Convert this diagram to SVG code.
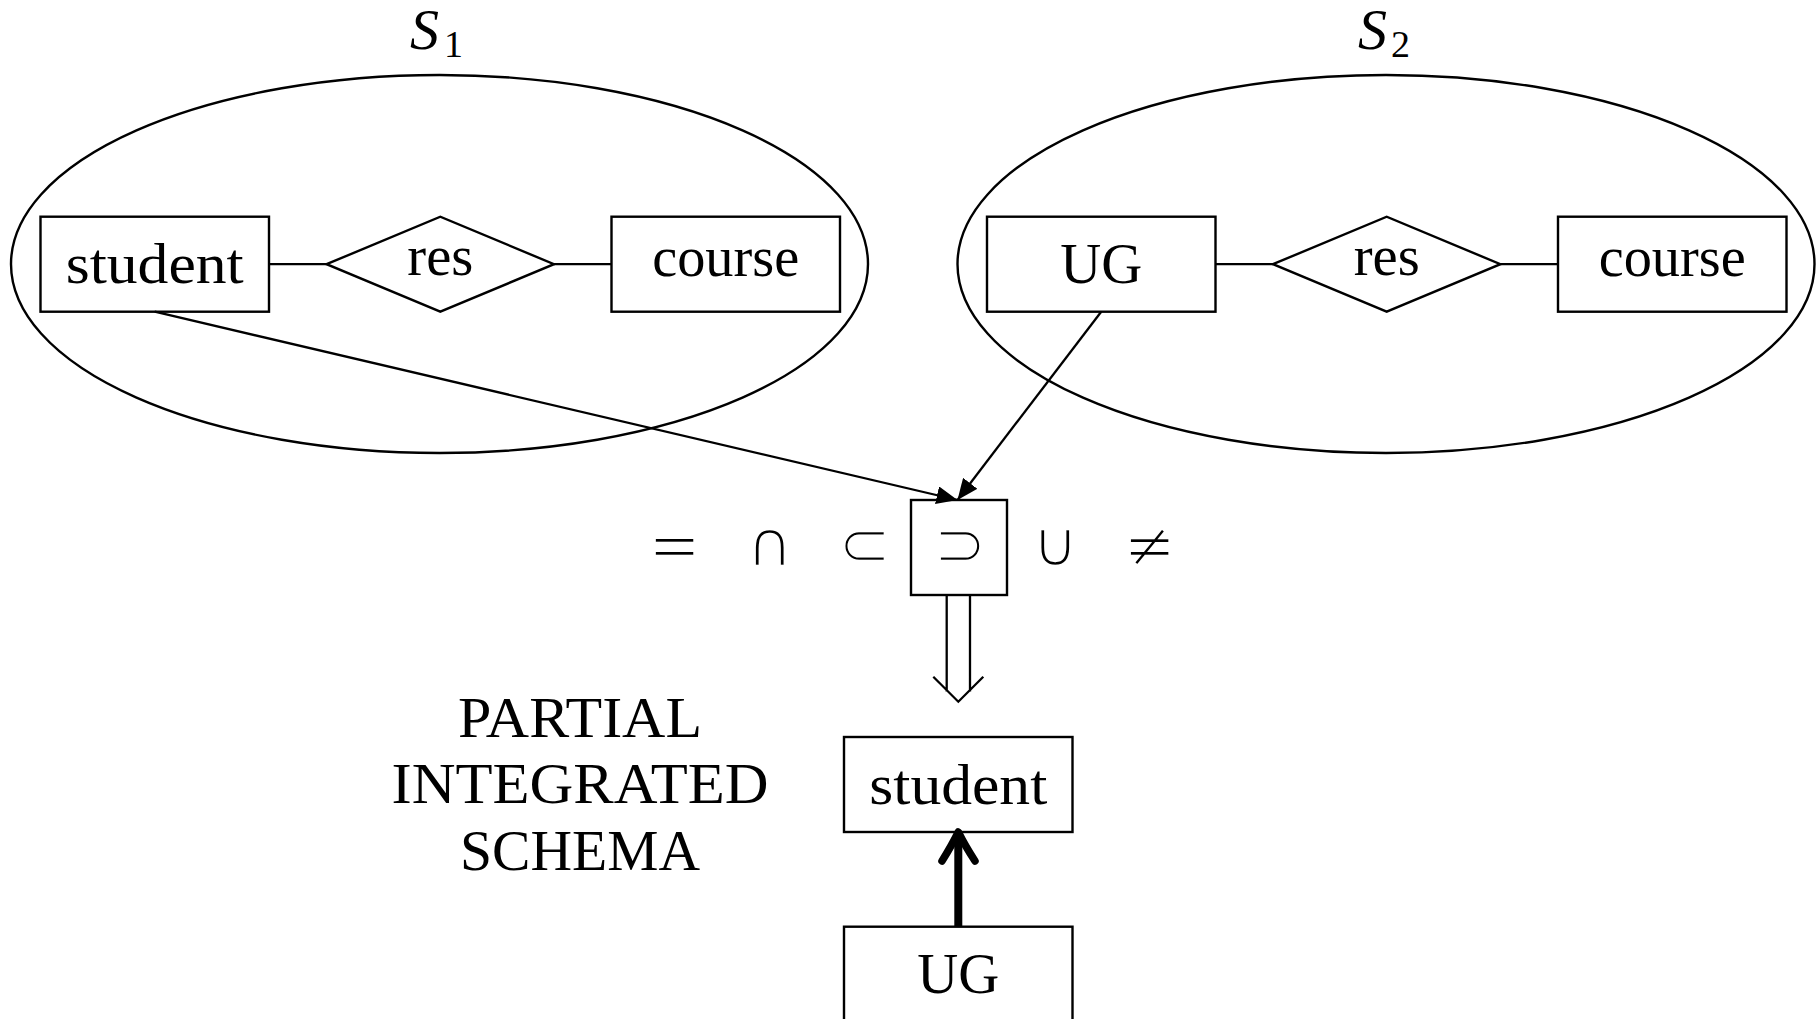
<svg xmlns="http://www.w3.org/2000/svg" width="1819" height="1019" viewBox="0 0 1819 1019">
<style>
.shape{fill:none;stroke:#000;stroke-width:2.4}
.line{fill:none;stroke:#000;stroke-width:2.3}
.t{font-family:"Liberation Serif","Times New Roman",serif;font-size:56px;fill:#000;text-anchor:middle}
.ti{font-family:"Liberation Serif","Times New Roman",serif;font-style:italic;font-size:58px;fill:#000}
.sub{font-family:"Liberation Serif","Times New Roman",serif;font-size:38px;fill:#000}
.sym{font-family:"DejaVu Sans",sans-serif;font-size:64px;font-weight:normal;fill:#000;stroke:#fff;stroke-width:2.6;text-anchor:middle}
</style>
<defs>
<marker id="tri" markerUnits="userSpaceOnUse" markerWidth="22" markerHeight="18" refX="21" refY="9" orient="auto">
<path d="M0,0 L21,9 L0,18 z" fill="#000"/>
</marker>
</defs>
<rect width="1819" height="1019" fill="#fff"/>

<g id="schema1">
<ellipse class="shape" cx="439.5" cy="264" rx="428.5" ry="189"/>
<text class="ti" x="410" y="49">S</text>
<text class="sub" x="444" y="57">1</text>
</g>
<g id="schema2">
<ellipse class="shape" cx="1386" cy="264" rx="428.5" ry="189"/>
<text class="ti" x="1358" y="49">S</text>
<text class="sub" x="1391" y="57">2</text>
</g>

<g id="student1">
<rect class="shape" x="40.5" y="216.7" width="228.5" height="95"/>
<text class="t" x="154.7" y="283.3" textLength="178" lengthAdjust="spacingAndGlyphs">student</text>
</g>
<g id="res1">
<polygon class="shape" points="326.6,264.2 440.3,216.7 554,264.2 440.3,311.7"/>
<text class="t" x="440.3" y="275" textLength="66" lengthAdjust="spacingAndGlyphs">res</text>
</g>
<g id="course1">
<rect class="shape" x="611.5" y="216.7" width="228.5" height="95"/>
<text class="t" x="725.7" y="275.5" textLength="147" lengthAdjust="spacingAndGlyphs">course</text>
</g>

<g id="ug1">
<rect class="shape" x="987" y="216.7" width="228.5" height="95"/>
<text class="t" x="1101.2" y="283.3" textLength="82" lengthAdjust="spacingAndGlyphs">UG</text>
</g>
<g id="res2">
<polygon class="shape" points="1273,264.2 1386.7,216.7 1500.4,264.2 1386.7,311.7"/>
<text class="t" x="1386.7" y="275" textLength="66" lengthAdjust="spacingAndGlyphs">res</text>
</g>
<g id="course2">
<rect class="shape" x="1558" y="216.7" width="228.5" height="95"/>
<text class="t" x="1672.2" y="275.5" textLength="147" lengthAdjust="spacingAndGlyphs">course</text>
</g>

<g id="operators">
<text class="sym" x="674.5" y="567">=</text>
<text class="sym" x="770" y="566">∩</text>
<text class="sym" x="864.5" y="566">⊂</text>
<text class="sym" x="1055.5" y="566">∪</text>
<text class="sym" x="1149.5" y="567">≠</text>
</g>
<g id="supset">
<rect class="shape" x="911" y="500" width="96" height="95"/>
<text class="sym" x="960" y="566">⊃</text>
</g>

<g id="label">
<text class="t" x="580" y="737.3" textLength="244" lengthAdjust="spacingAndGlyphs">PARTIAL</text>
<text class="t" x="580" y="803.3" textLength="377" lengthAdjust="spacingAndGlyphs">INTEGRATED</text>
<text class="t" x="580" y="870" textLength="240" lengthAdjust="spacingAndGlyphs">SCHEMA</text>
</g>

<g id="student2">
<rect class="shape" x="844" y="737" width="228.5" height="95"/>
<text class="t" x="958.3" y="804" textLength="178" lengthAdjust="spacingAndGlyphs">student</text>
</g>
<g id="ug2">
<rect class="shape" x="844" y="926.7" width="228.5" height="95"/>
<text class="t" x="958.3" y="993" textLength="82" lengthAdjust="spacingAndGlyphs">UG</text>
</g>

<g id="connectors">
<line class="line" x1="269" y1="264.2" x2="326.6" y2="264.2"/>
<line class="line" x1="554" y1="264.2" x2="611.5" y2="264.2"/>
<line class="line" x1="1215.5" y1="264.2" x2="1273" y2="264.2"/>
<line class="line" x1="1500.4" y1="264.2" x2="1558" y2="264.2"/>
<line class="line" x1="154.7" y1="311.7" x2="957.5" y2="500" marker-end="url(#tri)"/>
<line class="line" x1="1101.2" y1="311.7" x2="957.5" y2="500" marker-end="url(#tri)"/>
<path class="line" d="M946.7,595 V691.5 M970,595 V691.5 M933.3,676.7 L958.3,701.7 L983.3,676.7"/>
<path d="M958.3,926.7 V838" fill="none" stroke="#000" stroke-width="8"/>
<path d="M942,861 Q952,845 958.3,832 Q964.6,845 975,861" fill="none" stroke="#000" stroke-width="7.5" stroke-linecap="round" stroke-linejoin="round"/>
</g>
</svg>
